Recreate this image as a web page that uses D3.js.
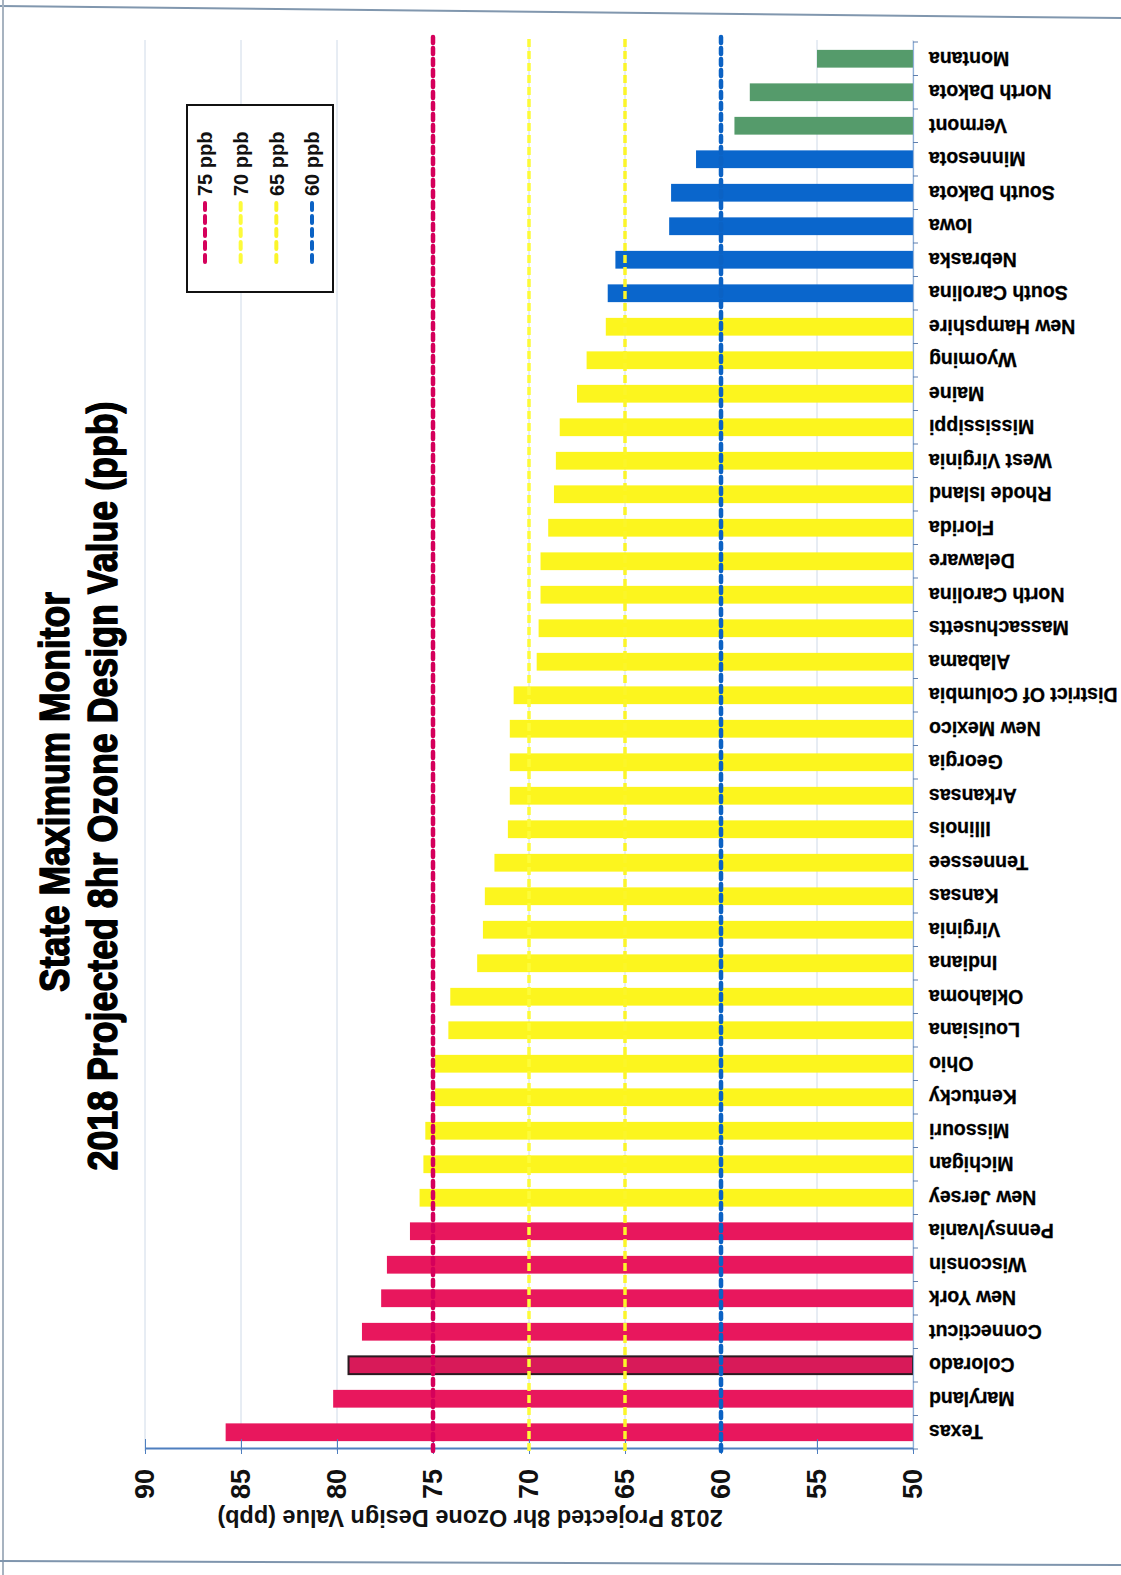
<!DOCTYPE html>
<html>
<head>
<meta charset="utf-8">
<script src="https://cdn.jsdelivr.net/npm/d3@7"></script>
<style>
  html, body { margin: 0; padding: 0; background: #ffffff; }
  svg { display: block; }
</style>
</head>
<body>
<script>
// ---------------- DATA ----------------
const states = ["Texas","Maryland","Colorado","Connecticut","New York","Wisconsin","Pennsylvania",
  "New Jersey","Michigan","Missouri","Kentucky","Ohio","Louisiana","Oklahoma","Indiana","Virginia",
  "Kansas","Tennessee","Illinois","Arkansas","Georgia","New Mexico","District Of Columbia","Alabama",
  "Massachusetts","North Carolina","Delaware","Florida","Rhode Island","West Virginia","Mississippi",
  "Maine","Wyoming","New Hampshire","South Carolina","Nebraska","Iowa","South Dakota","Minnesota",
  "Vermont","North Dakota","Montana"];
const values = [85.8, 80.2, 79.4, 78.7, 77.7, 77.4, 76.2,
  75.7, 75.5, 75.4, 74.9, 74.9, 74.2, 74.1, 72.7, 72.4,
  72.3, 71.8, 71.1, 71.0, 71.0, 71.0, 70.8, 69.6,
  69.5, 69.4, 69.4, 69.0, 68.7, 68.6, 68.4,
  67.5, 67.0, 66.0, 65.9, 65.5, 62.7, 62.6, 61.3,
  59.3, 58.5, 55.0];
const tiers = ["76+","76+","76+","76+","76+","76+","76+",
  "66-75","66-75","66-75","66-75","66-75","66-75","66-75","66-75","66-75",
  "66-75","66-75","66-75","66-75","66-75","66-75","66-75","66-75",
  "66-75","66-75","66-75","66-75","66-75","66-75","66-75",
  "66-75","66-75","66-75","61-65","61-65","61-65","61-65","61-65",
  "<=60","<=60","<=60"];
const highlighted = ["Colorado"];
const refLevels = [75, 70, 65, 60];
const refLabels = ["75 ppb", "70 ppb", "65 ppb", "60 ppb"];
const tickValues = [50, 55, 60, 65, 70, 75, 80, 85, 90];
const titleLines = ["State Maximum Monitor", "2018 Projected 8hr Ozone Design Value (ppb)"];
const axisTitle = "2018 Projected 8hr Ozone Design Value (ppb)";

// ---------------- STYLE ----------------
const W = 1121, H = 1575;
const tierColor = d3.scaleOrdinal()
  .domain(["76+","66-75","61-65","<=60"])
  .range(["#e8175d", "#fcf51e", "#0a66cc", "#559b6b"]);
const refColor = d3.scaleOrdinal().domain(refLevels)
  .range(["#d5005b", "#fdfb3a", "#fbf52a", "#0b62c4"]);
const refWidth = d3.scaleOrdinal().domain(refLevels).range([4.5, 3.5, 3.5, 4.5]);
const refDash = d3.scaleOrdinal().domain(refLevels).range(["6,5", "8,4", "8,4", "6,5"]);
const refCap = d3.scaleOrdinal().domain(refLevels).range(["round", "butt", "butt", "round"]);

const rows = states.map((s, i) => ({ state: s, value: values[i], tier: tiers[i] }));

const svg = d3.select("body").append("svg")
  .attr("width", W).attr("height", H)
  .attr("viewBox", `0 0 ${W} ${H}`);
svg.append("rect").attr("width", W).attr("height", H).attr("fill", "#ffffff");

// scanned page edges
svg.append("line").attr("x1", 0).attr("y1", 6).attr("x2", W).attr("y2", 18)
  .attr("stroke", "#8197ae").attr("stroke-width", 2);
svg.append("line").attr("x1", 3).attr("y1", 0).attr("x2", 3).attr("y2", H)
  .attr("stroke", "#a7b3c0").attr("stroke-width", 2);
svg.append("line").attr("x1", 0).attr("y1", 1561).attr("x2", W).attr("y2", 1565)
  .attr("stroke", "#7f95ad").attr("stroke-width", 2);

// The whole chart is drawn as an upright column chart, then turned 90° counter-clockwise
const g = svg.append("g").attr("transform", `translate(0,${H}) rotate(-90)`);

const x = d3.scaleBand().domain(states).range([126, 1533])
  .paddingInner(0.47).paddingOuter(0.235);
const y = d3.scaleLinear().domain([50, 90]).range([913, 145]);

// gridlines
g.append("g").selectAll("line").data(tickValues).join("line")
  .attr("x1", 124).attr("x2", 1535)
  .attr("y1", d => y(d)).attr("y2", d => y(d))
  .attr("stroke", "#cfdae8").attr("stroke-width", 1);

// bars
g.append("g").selectAll("rect").data(rows).join("rect")
  .attr("x", d => x(d.state))
  .attr("y", d => y(d.value))
  .attr("width", x.bandwidth())
  .attr("height", d => y(50) - y(d.value))
  .attr("fill", d => highlighted.includes(d.state) ? "#d81a59" : tierColor(d.tier))
  .attr("stroke", d => highlighted.includes(d.state) ? "#2a1a20" : "none")
  .attr("stroke-width", 2);

// value axis (original left axis)
const yAxis = g.append("g").attr("transform", "translate(126,0)")
  .call(d3.axisLeft(y).tickValues(tickValues).tickSize(5).tickSizeOuter(0).tickPadding(15));
yAxis.select(".domain").attr("stroke", "#4f7fbf").attr("stroke-width", 1.8);
yAxis.selectAll(".tick line").attr("stroke", "#4f7fbf").attr("x2", 10).attr("x1", -5);
yAxis.selectAll(".tick text")
  .attr("font-family", "'Liberation Sans', Arial, sans-serif")
  .attr("font-weight", "bold").attr("font-size", 27).attr("fill", "#111");

// category axis (original bottom axis)
const xAxis = g.append("g").attr("transform", `translate(0,${y(50)})`)
  .call(d3.axisBottom(x).tickSize(0).tickSizeOuter(0));
xAxis.select(".domain").attr("stroke", "#8fb0d8").attr("stroke-width", 1.2);
xAxis.selectAll(".tick text")
  .attr("transform", "rotate(-90)")
  .attr("text-anchor", "end")
  .attr("x", -16).attr("y", 0).attr("dy", "0.36em")
  .attr("font-family", "'Liberation Sans', Arial, sans-serif")
  .attr("font-weight", "bold").attr("font-size", 19.5).attr("fill", "#000")
  .attr("stroke", "#000").attr("stroke-width", 0.3);
const step = x.step();
const boundaries = states.map(s => x(s) - (step - x.bandwidth()) / 2)
  .concat([x(states[states.length - 1]) + x.bandwidth() + (step - x.bandwidth()) / 2]);
xAxis.append("g").selectAll("line").data(boundaries).join("line")
  .attr("x1", d => d).attr("x2", d => d).attr("y1", 0).attr("y2", 5)
  .attr("stroke", "#5f7fae").attr("stroke-width", 1);

// reference lines
g.append("g").selectAll("line").data(refLevels).join("line")
  .attr("x1", 124).attr("x2", 1538)
  .attr("y1", d => y(d)).attr("y2", d => y(d))
  .attr("stroke", d => refColor(d))
  .attr("stroke-width", d => refWidth(d))
  .attr("stroke-dasharray", d => refDash(d))
  .attr("stroke-linecap", d => refCap(d));

// title
const titleBase = [69, 117];
const titleCenter = [783, 789];
const titleLen = [400, 769];
g.append("g").selectAll("text").data(titleLines).join("text")
  .attr("x", (d, i) => titleCenter[i]).attr("y", (d, i) => titleBase[i])
  .attr("text-anchor", "middle")
  .attr("textLength", (d, i) => titleLen[i])
  .attr("lengthAdjust", "spacingAndGlyphs")
  .attr("font-family", "'Liberation Sans', Arial, sans-serif")
  .attr("font-weight", "bold").attr("font-size", 42).attr("fill", "#000")
  .attr("stroke", "#000").attr("stroke-width", 1.4).attr("stroke-linejoin", "round")
  .text(d => d);

// value axis title
g.append("text")
  .attr("transform", "translate(65,470) rotate(-90)")
  .attr("text-anchor", "middle")
  .attr("font-family", "'Liberation Sans', Arial, sans-serif")
  .attr("font-weight", "bold").attr("font-size", 23.5).attr("fill", "#111")
  .text(axisTitle);

// legend
const legend = g.append("g");
legend.append("rect")
  .attr("x", 1283).attr("y", 187).attr("width", 187).attr("height", 146)
  .attr("fill", "#ffffff").attr("stroke", "#111").attr("stroke-width", 2);
const legY = d3.scalePoint().domain(refLevels).range([205, 312]);
const items = legend.selectAll("g.item").data(refLevels).join("g").attr("class", "item")
  .attr("transform", d => `translate(0,${legY(d)})`);
items.append("line")
  .attr("x1", 1313).attr("x2", 1373).attr("y1", 0).attr("y2", 0)
  .attr("stroke", d => refColor(d))
  .attr("stroke-width", 4)
  .attr("stroke-dasharray", "7,6")
  .attr("stroke-linecap", "round");
items.append("text")
  .attr("x", 1379).attr("y", 0).attr("dy", "0.36em")
  .attr("font-family", "'Liberation Sans', Arial, sans-serif")
  .attr("font-weight", "bold").attr("font-size", 20).attr("fill", "#111")
  .text((d, i) => refLabels[i]);
</script>
</body>
</html>
